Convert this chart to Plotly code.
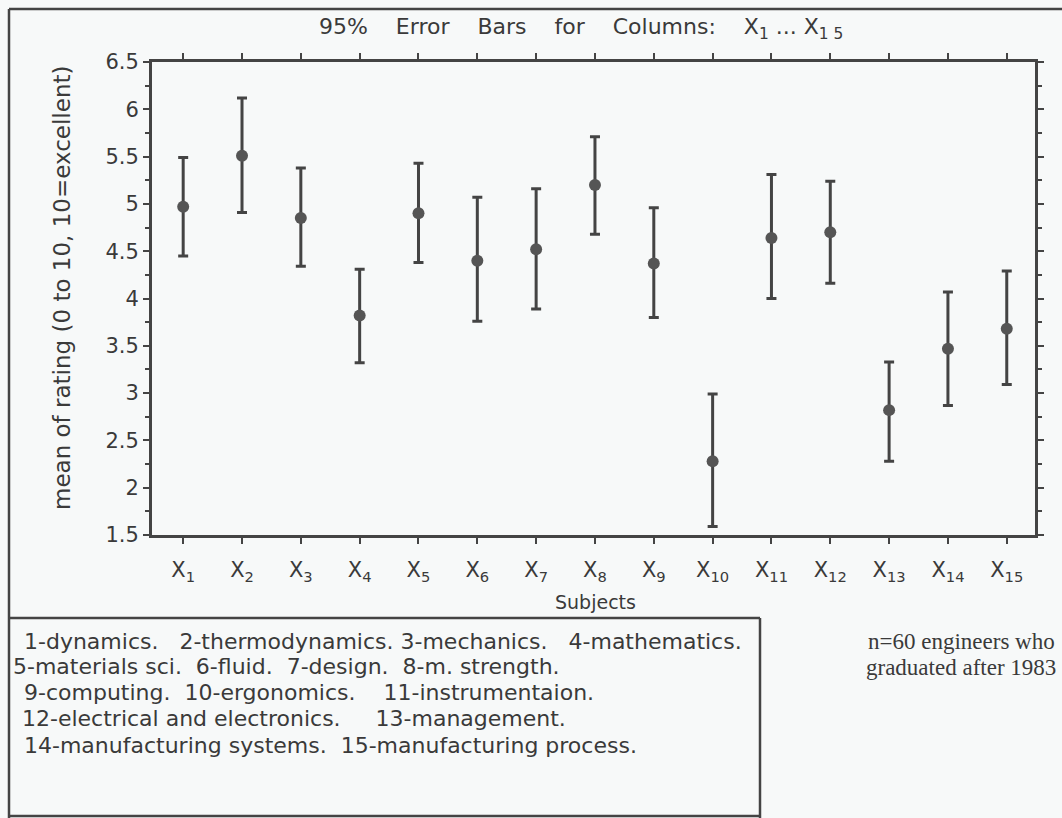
import plotly.graph_objects as go

# ---- data ----
positions = [1, 2, 3, 4, 5, 6, 7, 8, 9, 10, 11, 12, 13, 14, 15]
tick_labels = ["X<sub>1</sub>", "X<sub>2</sub>", "X<sub>3</sub>", "X<sub>4</sub>", "X<sub>5</sub>",
               "X<sub>6</sub>", "X<sub>7</sub>", "X<sub>8</sub>", "X<sub>9</sub>", "X<sub>10</sub>",
               "X<sub>11</sub>", "X<sub>12</sub>", "X<sub>13</sub>", "X<sub>14</sub>", "X<sub>15</sub>"]
means = [4.97, 5.51, 4.85, 3.82, 4.90, 4.40, 4.52, 5.20, 4.37, 2.28, 4.64, 4.70, 2.82, 3.47, 3.68]
upper = [5.49, 6.12, 5.38, 4.31, 5.43, 5.07, 5.16, 5.71, 4.96, 2.99, 5.31, 5.24, 3.33, 4.07, 4.29]
lower = [4.45, 4.91, 4.34, 3.32, 4.38, 3.76, 3.89, 4.68, 3.80, 1.59, 4.00, 4.16, 2.28, 2.87, 3.09]
y_ticks = [1.5, 2, 2.5, 3, 3.5, 4, 4.5, 5, 5.5, 6, 6.5]

NB = "\u00a0"
legend_lines = [
    "1-dynamics." + NB * 2 + " 2-thermodynamics. 3-mechanics." + NB * 2 + " 4-mathematics.",
    "5-materials sci." + NB + " 6-fluid." + NB + " 7-design." + NB + " 8-m. strength.",
    "9-computing." + NB + " 10-ergonomics." + NB * 3 + " 11-instrumentaion.",
    "12-electrical and electronics." + NB * 4 + " 13-management.",
    "14-manufacturing systems." + NB + " 15-manufacturing process.",
]
note_lines = ["n=60 engineers who", "graduated after 1983"]

err_plus = [u - m for u, m in zip(upper, means)]
err_minus = [m - l for m, l in zip(means, lower)]

# ---- layout geometry ----
W, H = 1062, 818
L, R, T, B = 152, 1035, 62, 535
INK = "#444444"
TXT = "#3a3a3a"
BG = "#f7f9f9"
SANS = "DejaVu Sans"


def px(x):
    return (x - L) / (R - L)


def py(y):
    return (B - y) / (B - T)


fig = go.Figure()
fig.add_trace(go.Scatter(
    x=positions, y=means, mode="markers",
    marker=dict(symbol="circle", size=12, color="#555555"),
    error_y=dict(type="data", symmetric=False, array=err_plus, arrayminus=err_minus,
                 color=INK, thickness=3, width=5),
    showlegend=False, hoverinfo="skip",
))

fig.update_layout(
    width=W, height=H, autosize=False,
    margin=dict(l=L, r=W - R, t=T, b=H - B, pad=0),
    paper_bgcolor=BG, plot_bgcolor=BG,
    font=dict(family=SANS, color=TXT),
    showlegend=False,
)

fig.update_xaxes(
    range=[0.47, 15.48], tickmode="array", tickvals=positions, ticktext=tick_labels,
    ticks="outside", ticklen=6, tickwidth=2, tickcolor=INK, ticklabelstandoff=8,
    showline=True, linewidth=3, linecolor=INK, mirror="ticks",
    showgrid=False, zeroline=False,
    tickfont=dict(family=SANS, size=21, color=TXT),
)
fig.update_yaxes(
    range=[1.5, 6.5], tickmode="array", tickvals=y_ticks,
    ticks="outside", ticklen=6, tickwidth=2, tickcolor=INK,
    minor=dict(dtick=0.25, tick0=1.5, ticks="outside", ticklen=4, tickwidth=2, tickcolor=INK, showgrid=False),
    showline=True, linewidth=3, linecolor=INK, mirror="ticks",
    showgrid=False, zeroline=False,
    tickfont=dict(family=SANS, size=21, color=TXT),
)

annotations = []
GAP = NB * 3 + " "
annotations.append(dict(
    text="95%" + GAP + "Error" + GAP + "Bars" + GAP + "for" + GAP + "Columns:" + GAP +
         "X<sub>1</sub> ... X<sub>1 5</sub>",
    x=px(581), y=py(28), xref="paper", yref="paper", xanchor="center", yanchor="middle",
    showarrow=False, font=dict(family=SANS, size=22, color=TXT)))
annotations.append(dict(
    text="mean of rating (0 to 10, 10=excellent)",
    x=px(62), y=py(288), xref="paper", yref="paper", xanchor="center", yanchor="middle",
    textangle=-90, showarrow=False, font=dict(family=SANS, size=23, color=TXT)))
annotations.append(dict(
    text="Subjects", x=px(595), y=py(602), xref="paper", yref="paper",
    xanchor="center", yanchor="middle", showarrow=False,
    font=dict(family=SANS, size=19, color=TXT)))
legend_x = [22, 11, 22, 20, 22]
legend_y = [641, 666, 692, 718, 745]
for t, lx, ly in zip(legend_lines, legend_x, legend_y):
    annotations.append(dict(
        text=t, x=px(lx), y=py(ly), xref="paper", yref="paper",
        xanchor="left", yanchor="middle", showarrow=False,
        font=dict(family=SANS, size=22, color=TXT)))
for t, ny in zip(note_lines, [641, 667]):
    annotations.append(dict(
        text=t, x=px(961), y=py(ny), xref="paper", yref="paper",
        xanchor="center", yanchor="middle", showarrow=False,
        font=dict(family="Liberation Serif", size=23, color=TXT)))

shapes = []
frame_lines = [
    (9, 9, 1062, 9),
    (9, 9, 9, 818),
    (9, 618, 760, 618),
    (760, 618, 760, 818),
    (9, 816, 760, 816),
]
for x0, y0, x1, y1 in frame_lines:
    shapes.append(dict(type="line", xref="paper", yref="paper",
                       x0=px(x0), y0=py(y0), x1=px(x1), y1=py(y1),
                       line=dict(color=INK, width=2.5)))

fig.update_layout(annotations=annotations, shapes=shapes)
fig.write_html("out.html", config={"displayModeBar": False},
               post_script="document.body.style.margin='0';document.body.style.overflow='hidden';")
